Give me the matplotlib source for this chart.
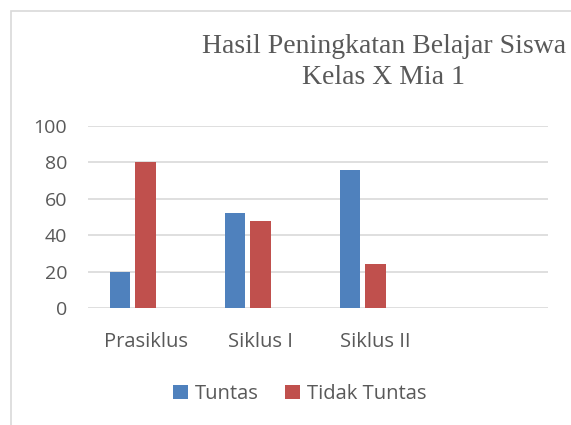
import matplotlib.pyplot as plt
import numpy as np
from matplotlib.patches import Rectangle

categories = ['Prasiklus', 'Siklus I', 'Siklus II', '']
tuntas = [20, 52, 76, np.nan]
tidak_tuntas = [80, 48, 24, np.nan]
yticks = [0, 20, 40, 60, 80, 100]

blue = '#4f81bd'
red = '#c0504d'
gray_text = '#595959'

plt.rcParams['font.family'] = ['Open Sans', 'DejaVu Sans']

fig = plt.figure(figsize=(5.71, 4.25), dpi=100)
fig.patches.append(Rectangle((11 / 571, -0.1), 1.2, 1 - 11 / 425 + 0.1,
                             transform=fig.transFigure, fill=False,
                             edgecolor='#d9d9d9', linewidth=1.2))

ax = fig.add_axes([88 / 571, 1 - 308 / 425, (548 - 88) / 571, (308 - 126) / 425])

# excel leaves room for a third (empty) series, so bars sit left of the label
x = np.arange(len(categories))
w = 0.175
ax.bar(x - 0.218, tuntas, w, color=blue, label='Tuntas', zorder=3)
ax.bar(x, tidak_tuntas, w, color=red, label='Tidak Tuntas', zorder=3)

ax.set_xlim(-0.5, 3.5)
ax.set_ylim(0, 100)
ax.set_yticks(yticks)
ax.set_xticks(x)
ax.set_xticklabels(categories)
for s in ax.spines.values():
    s.set_visible(False)
ax.grid(axis='y', color='#d9d9d9', linewidth=1.2, zorder=0)
ax.tick_params(length=0, labelcolor=gray_text)
ax.tick_params(axis='x', pad=17, labelsize=14.5)
ax.tick_params(axis='y', pad=15, labelsize=14)

fig.text(384 / 571, 1 - 62 / 425, 'Hasil Peningkatan Belajar Siswa\nKelas X Mia 1',
         ha='center', va='center', fontsize=20, color=gray_text,
         family='Liberation Serif', linespacing=1.35)

fig.legend(loc='center', bbox_to_anchor=(300 / 571, 1 - 394 / 425), ncol=2,
           frameon=False, fontsize=14.5, labelcolor=gray_text,
           handlelength=0.75, handleheight=0.75, handletextpad=0.35, columnspacing=1.3)

fig.savefig('out.png', dpi=100)
